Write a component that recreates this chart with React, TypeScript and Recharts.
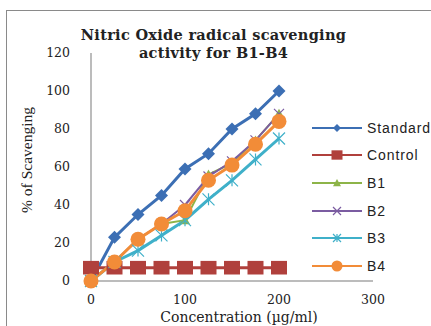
import { LineChart, Line, XAxis, YAxis, Legend } from "recharts";

const concentrations = [0, 25, 50, 75, 100, 125, 150, 175, 200];
const standard = [0, 23, 35, 45, 59, 67, 80, 88, 100];
const control = [7, 7, 7, 7, 7, 7, 7, 7, 7];
const b1 = [0, 10, 22, 30, 32, 56, 62, 74, 88];
const b2 = [0, 10, 22, 30, 40, 55, 63, 74, 88];
const b3 = [0, 10, 16, 24, 32, 43, 53, 64, 75];
const b4 = [0, 10, 22, 30, 37, 53, 61, 72, 84];
const xTicks = [0, 100, 200, 300];
const yTicks = [0, 20, 40, 60, 80, 100, 120];

type Shape = "diamond" | "square" | "triangle" | "cross" | "star" | "circle";

const series: { key: string; name: string; color: string; shape: Shape; width: number }[] = [
  { key: "standard", name: "Standard", color: "#3c6fb4", shape: "diamond", width: 3 },
  { key: "control", name: "Control", color: "#b0403c", shape: "square", width: 3 },
  { key: "b1", name: "B1", color: "#8db448", shape: "triangle", width: 2 },
  { key: "b2", name: "B2", color: "#7b5ca1", shape: "cross", width: 2 },
  { key: "b3", name: "B3", color: "#3fb0c9", shape: "star", width: 3 },
  { key: "b4", name: "B4", color: "#f28c38", shape: "circle", width: 3 },
];

const data = concentrations.map((c, i) => ({
  conc: c,
  standard: standard[i],
  control: control[i],
  b1: b1[i],
  b2: b2[i],
  b3: b3[i],
  b4: b4[i],
}));

function drawMarker(shape: Shape, cx: number, cy: number, color: string, s: number, key?: string) {
  switch (shape) {
    case "diamond":
      return (
        <path key={key} d={`M${cx},${cy - s}L${cx + s},${cy}L${cx},${cy + s}L${cx - s},${cy}Z`} fill={color} />
      );
    case "square":
      return <rect key={key} x={cx - s} y={cy - s * 0.85} width={s * 2} height={s * 1.7} fill={color} />;
    case "triangle":
      return (
        <path key={key} d={`M${cx},${cy - s}L${cx + s},${cy + s * 0.8}L${cx - s},${cy + s * 0.8}Z`} fill={color} />
      );
    case "cross":
      return (
        <path
          key={key}
          d={`M${cx - s},${cy - s}L${cx + s},${cy + s}M${cx - s},${cy + s}L${cx + s},${cy - s}`}
          stroke={color}
          strokeWidth={1.2}
        />
      );
    case "star":
      return (
        <path
          key={key}
          d={`M${cx - s},${cy - s}L${cx + s},${cy + s}M${cx - s},${cy + s}L${cx + s},${cy - s}M${cx},${cy - s}L${cx},${cy + s}`}
          stroke={color}
          strokeWidth={1.2}
        />
      );
    default:
      return <circle key={key} cx={cx} cy={cy} r={s} fill={color} />;
  }
}

const markerSize: Record<Shape, number> = {
  diamond: 6.5,
  square: 8,
  triangle: 5,
  cross: 5,
  star: 6,
  circle: 7.5,
};

function LegendBox() {
  return (
    <div style={{ fontFamily: "'Liberation Sans', Arial, sans-serif", fontSize: 14, letterSpacing: 0.9, color: "#222" }}>
      {series.map((s) => (
        <div key={s.key} style={{ display: "flex", alignItems: "center", height: 27.6 }}>
          <svg width={52} height={14} style={{ marginRight: 3 }}>
            <line x1={0} y1={7} x2={50} y2={7} stroke={s.color} strokeWidth={2} />
            {drawMarker(s.shape, 25, 7, s.color, s.shape === "square" ? 5.5 : s.shape === "circle" ? 5.5 : 4)}
          </svg>
          <span>{s.name}</span>
        </div>
      ))}
    </div>
  );
}

export default function App() {
  return (
    <div style={{ position: "fixed", left: 0, top: 0, width: 431, height: 326, background: "#fff", overflow: "hidden" }}>
      <div
        style={{
          position: "absolute",
          left: 6,
          top: 10,
          width: 440,
          height: 330,
          borderLeft: "1px solid #8a8a8a",
          borderTop: "1px solid #8a8a8a",
        }}
      />
      <div
        style={{
          position: "absolute",
          left: 0,
          width: 427,
          top: 26,
          textAlign: "center",
          fontFamily: "'DejaVu Serif', serif",
          fontWeight: "bold",
          fontSize: 14.5,
          letterSpacing: 0.3,
          lineHeight: "18px",
          color: "#222",
        }}
      >
        Nitric Oxide radical scavenging
        <br />
        activity for B1-B4
      </div>
      <div style={{ position: "absolute", left: 0, top: 0 }}>
        <LineChart width={431} height={326} data={data} margin={{ top: 53, right: 58, bottom: 0, left: 0 }}>
          <XAxis
            dataKey="conc"
            type="number"
            domain={[0, 300]}
            ticks={xTicks}
            height={45}
            axisLine={{ stroke: "#a6a6a6", strokeWidth: 1.5 }}
            tickLine={false}
            tickSize={0}
            tickMargin={14}
            tick={{ fill: "#222", fontSize: 12.5, fontFamily: "'DejaVu Serif', serif" }}
            label={{
              value: "Concentration (µg/ml)",
              position: "insideBottom",
              offset: 4,
              dx: 7,
              style: { fill: "#222", fontSize: 14, fontFamily: "'DejaVu Serif', serif" },
            }}
          />
          <YAxis
            type="number"
            domain={[0, 120]}
            ticks={yTicks}
            width={91}
            axisLine={{ stroke: "#a6a6a6", strokeWidth: 1.5 }}
            tickLine={false}
            tickSize={0}
            tickMargin={21}
            tick={{ fill: "#222", fontSize: 12.5, fontFamily: "'DejaVu Serif', serif" }}
            label={{
              value: "% of Scavenging",
              angle: -90,
              position: "insideLeft",
              offset: 26,
              dy: -7,
              style: { textAnchor: "middle", fill: "#222", fontSize: 15.5, fontFamily: "'Liberation Serif', serif" },
            }}
          />
          <Legend
            layout="vertical"
            align="center"
            verticalAlign="middle"
            wrapperStyle={{ left: 312, top: 114, width: 130 }}
            content={() => <LegendBox />}
          />
          {series.map((s) => (
            <Line
              key={s.key}
              dataKey={s.key}
              name={s.name}
              stroke={s.color}
              strokeWidth={s.width}
              isAnimationActive={false}
              dot={(p: any) => drawMarker(s.shape, p.cx, p.cy, s.color, markerSize[s.shape], `${s.key}-${p.index}`)}
              activeDot={false}
            />
          ))}
        </LineChart>
      </div>
    </div>
  );
}
